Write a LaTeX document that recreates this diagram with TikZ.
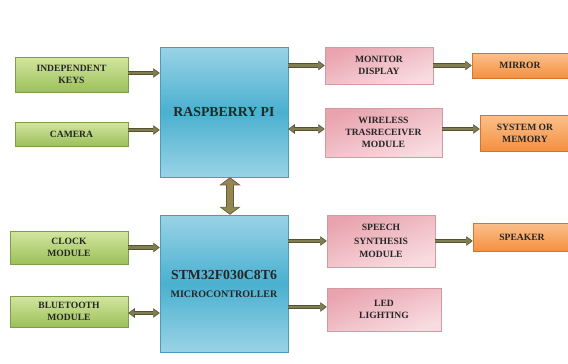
\documentclass[tikz,border=0pt]{standalone}
\usepackage{fontspec}
\setmainfont{Liberation Serif}
\usetikzlibrary{arrows.meta,shadows}
\definecolor{grnTop}{HTML}{D3E6A0}
\definecolor{grnBot}{HTML}{9CC05A}
\definecolor{grnEdge}{HTML}{7E9E45}
\definecolor{bluTop}{HTML}{9AD3E6}
\definecolor{bluMid}{HTML}{4AB0D0}
\definecolor{bluEdge}{HTML}{4A9DB8}
\definecolor{pnkTop}{HTML}{E9A3AE}
\definecolor{pnkBot}{HTML}{F8DCE0}
\definecolor{pnkEdge}{HTML}{D39AA4}
\definecolor{orgTop}{HTML}{FBC08C}
\definecolor{orgBot}{HTML}{F5903F}
\definecolor{orgEdge}{HTML}{D5742A}
\definecolor{arrEdge}{HTML}{55532F}
\definecolor{arrFill}{HTML}{807D52}
\definecolor{varrEdge}{HTML}{6A5C33}
\definecolor{varrFill}{HTML}{948652}
\definecolor{txt}{HTML}{262626}
\tikzset{
  box/.style={rectangle, inner sep=1pt, align=center, text=txt,
    font=\fontsize{9.6}{12}\selectfont\bfseries,
    drop shadow={shadow xshift=1.2pt, shadow yshift=-1.2pt, opacity=0.35}},
  gbox/.style={box, draw=grnEdge, line width=0.5pt, top color=grnTop, bottom color=grnBot},
  bbox/.style={box, draw=bluEdge, line width=0.5pt, top color=bluTop, bottom color=bluTop, middle color=bluMid},
  pbox/.style={box, draw=pnkEdge, line width=0.5pt, top color=pnkTop, bottom color=pnkBot, shading angle=20},
  obox/.style={box, draw=orgEdge, line width=0.5pt, top color=orgTop, bottom color=orgBot},
  fat/.style={draw=arrEdge, line width=4.4pt,
    -{Triangle[length=6.5pt,width=9.5pt,line width=0.6pt,fill=arrFill]},
    postaction={draw=arrFill, line width=2.8pt, -, shorten >=5pt}},
  fatboth/.style={draw=arrEdge, line width=4.4pt,
    {Triangle[length=6.5pt,width=9.5pt,line width=0.6pt,fill=arrFill]}-{Triangle[length=6.5pt,width=9.5pt,line width=0.6pt,fill=arrFill]},
    postaction={draw=arrFill, line width=2.8pt, -, shorten >=5pt, shorten <=5pt}},
  vfat/.style={draw=varrEdge, line width=8pt,
    {Triangle[length=8pt,width=21pt,line width=0.7pt,fill=varrFill]}-{Triangle[length=8pt,width=21pt,line width=0.7pt,fill=varrFill]},
    postaction={draw=varrFill, line width=6.4pt, -, shorten >=7pt, shorten <=7pt}}
}
\begin{document}
\begin{tikzpicture}[x=1pt,y=-1pt]
\useasboundingbox[fill=white] (0,0) rectangle (568,364);
\clip (0,0) rectangle (568,364);
% left column
\node[gbox, minimum width=113pt, minimum height=35pt] (keys) at (71.5,74.5) {INDEPENDENT\\KEYS};
\node[gbox, minimum width=113pt, minimum height=24pt] (cam) at (71.5,134) {CAMERA};
\node[gbox, minimum width=118pt, minimum height=33pt] (clock) at (69,247.5) {CLOCK\\MODULE};
\node[gbox, minimum width=118pt, minimum height=31pt] (bt) at (69,311.5) {BLUETOOTH\\MODULE};
% centre
\node[bbox, minimum width=128pt, minimum height=130pt, font=\fontsize{13.8}{16}\selectfont\bfseries] (rpi) at (224,112) {RASPBERRY PI};
\node[bbox, minimum width=128pt, minimum height=137pt] (stm) at (224,283.5)
  {{\fontsize{13.8}{16}\selectfont STM32F030C8T6}\\[6pt]{\fontsize{10}{11}\selectfont MICROCONTROLLER}};
% right column
\node[pbox, minimum width=108pt, minimum height=37pt] (mon) at (379,65.5) {MONITOR\\DISPLAY};
\node[pbox, minimum width=117pt, minimum height=49pt] (wir) at (383.5,132.5) {WIRELESS\\TRASRECEIVER\\MODULE};
\node[pbox, minimum width=108pt, minimum height=52pt, font=\fontsize{9.6}{13.5}\selectfont\bfseries] (speech) at (381,241) {SPEECH\\SYNTHESIS\\MODULE};
\node[pbox, minimum width=114pt, minimum height=43pt] (led) at (384,309.5) {LED\\LIGHTING};
% far right
\node[obox, minimum width=96pt, minimum height=25pt] (mirror) at (520,65.5) {MIRROR};
\node[obox, minimum width=90pt, minimum height=36pt] (sys) at (525,133) {SYSTEM OR\\MEMORY};
\node[obox, minimum width=98pt, minimum height=28pt] (spk) at (522,237) {SPEAKER};
% connectors
\draw[fat] ([yshift=1.5pt]keys.east) -- ([yshift=1.5pt]rpi.west |- keys.east);
\draw[fat] ([yshift=4pt]cam.east) -- ([yshift=4pt]rpi.west |- cam.east);
\draw[fat] (rpi.east |- mon.west) -- (mon.west);
\draw[fatboth] ([yshift=3.5pt]rpi.east |- wir.west) -- ([yshift=3.5pt]wir.west);
\draw[fat] (mon.east) -- (mon.east -| mirror.west);
\draw[fat] ([yshift=3.5pt]wir.east) -- ([yshift=3.5pt]wir.east -| sys.west);
\draw[fat] (clock.east) -- (clock.east -| stm.west);
\draw[fatboth] ([yshift=-1.5pt]bt.east) -- ([yshift=-1.5pt]bt.east -| stm.west);
\draw[fat] (stm.east |- speech.west) -- (speech.west);
\draw[fat] ([yshift=2.5pt]stm.east |- led.west) -- ([yshift=2.5pt]led.west);
\draw[fat] (speech.east) -- (speech.east -| spk.west);
\draw[vfat] ([xshift=6pt]rpi.south) -- ([xshift=6pt]stm.north);
\end{tikzpicture}
\end{document}
